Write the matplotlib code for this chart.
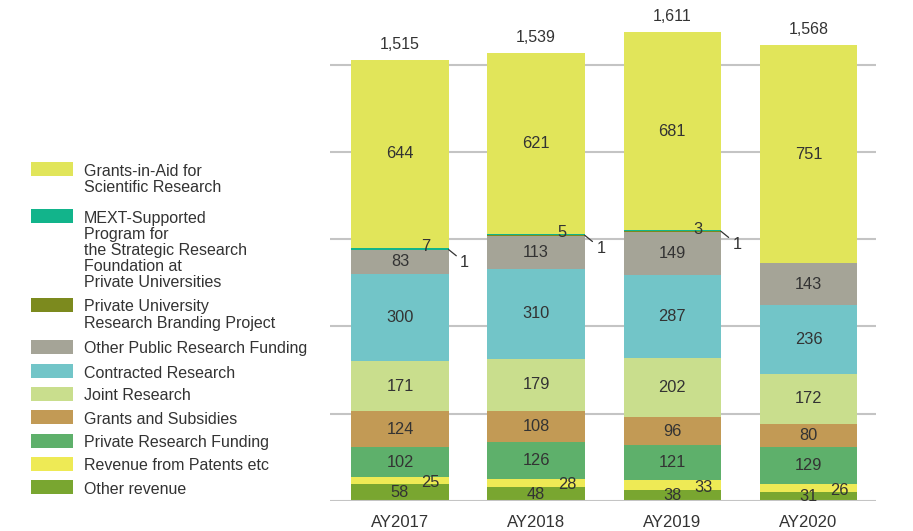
import numpy as np
import matplotlib.pyplot as plt
from matplotlib.patches import Rectangle

plt.rcParams['font.family'] = ['Liberation Sans', 'DejaVu Sans']

# data (bottom to top of each bar)
years = ['AY2017', 'AY2018', 'AY2019', 'AY2020']
other_revenue = [58, 48, 38, 31]
patents = [25, 28, 33, 26]
private_funding = [102, 126, 121, 129]
grants_subsidies = [124, 108, 96, 80]
joint_research = [171, 179, 202, 172]
contracted = [300, 310, 287, 236]
other_public = [83, 113, 149, 143]
branding = [1, 1, 1, 0]
mext = [7, 5, 3, 0]
kakenhi = [644, 621, 681, 751]
totals = [1515, 1539, 1611, 1568]

series = [
    ('Other revenue', other_revenue, '#79a630'),
    ('Revenue from Patents etc', patents, '#eeea55'),
    ('Private Research Funding', private_funding, '#5eb06b'),
    ('Grants and Subsidies', grants_subsidies, '#c29a55'),
    ('Joint Research', joint_research, '#c9de8d'),
    ('Contracted Research', contracted, '#72c5c8'),
    ('Other Public Research Funding', other_public, '#a5a497'),
    ('Private University\nResearch Branding Project', branding, '#7c8a1e'),
    ('MEXT-Supported\nProgram for\nthe Strategic Research\nFoundation at\nPrivate Universities', mext, '#12b48b'),
    ('Grants-in-Aid for\nScientific Research', kakenhi, '#e1e55a'),
]

txt = '#333333'
W, H = 913, 531
fig = plt.figure(figsize=(W / 100, H / 100), dpi=100)
ax = fig.add_axes([330 / W, 30 / H, 546 / W, 501 / H])

x = np.arange(len(years))
bw = 0.715
fs = 11.8
bottom = np.zeros(len(years))
for name, vals, col in series:
    vals = np.array(vals, dtype=float)
    ax.bar(x, vals, bw, bottom=bottom, color=col, zorder=2, linewidth=0)
    mids = bottom + vals / 2
    for i, v in enumerate(vals):
        if v == 0:
            continue
        if name.startswith('Revenue from'):
            ax.annotate(f'{int(v)}', (x[i] + bw / 2, mids[i]), xytext=(-18, -2),
                        textcoords='offset pixels', ha='center', va='center',
                        fontsize=fs, color=txt, zorder=5)
        elif name.startswith('MEXT'):
            ax.annotate(f'{int(v)}', (x[i] + bw / 2, bottom[i] + v), xytext=(-23, 1),
                        textcoords='offset pixels', ha='center', va='center',
                        fontsize=fs, color=txt, zorder=5)
        elif name.startswith('Private University'):
            ax.annotate(f'{int(v)}', (x[i] + bw / 2, bottom[i] + v), xytext=(16, -13),
                        textcoords='offset pixels', ha='center', va='center',
                        fontsize=fs, color=txt, zorder=5,
                        arrowprops=dict(arrowstyle='-', color=txt, lw=0.9,
                                        relpos=(0.0, 0.75), shrinkA=1, shrinkB=0))
        else:
            ax.text(x[i], mids[i], f'{int(v)}', ha='center', va='center',
                    fontsize=fs, color=txt, zorder=5)
    bottom = bottom + vals

for i, t in enumerate(totals):
    ax.annotate(f'{t:,}', (x[i], bottom[i]), xytext=(0, 8), textcoords='offset pixels',
                ha='center', va='bottom', fontsize=11.5, color=txt)

for g in range(0, 1501, 300):
    ax.axhline(g, color='#c4c4c4', lw=1.5, zorder=1 if g else 3)

ax.set_xlim(-0.514, 3.496)
ax.set_ylim(0, 1722)
ax.set_xticks(x)
ax.set_xticklabels(years, fontsize=12, color=txt)
ax.tick_params(axis='x', length=0, pad=10)
ax.set_yticks([])
for s in ax.spines.values():
    s.set_visible(False)

# legend, drawn by hand on the left
leg_tops = [162, 209, 298, 340, 364, 387, 410, 434, 457, 480]
for (name, vals, col), top in zip(series[::-1], leg_tops):
    fig.add_artist(Rectangle((31 / W, 1 - (top + 13.5) / H), 42 / W, 13.5 / H,
                             transform=fig.transFigure, color=col, lw=0))
    fig.text(84 / W, 1 - (top + 1.5) / H, name, ha='left', va='top', fontsize=11.5,
             color=txt, linespacing=1.1)

fig.savefig('out.png', dpi=100)
